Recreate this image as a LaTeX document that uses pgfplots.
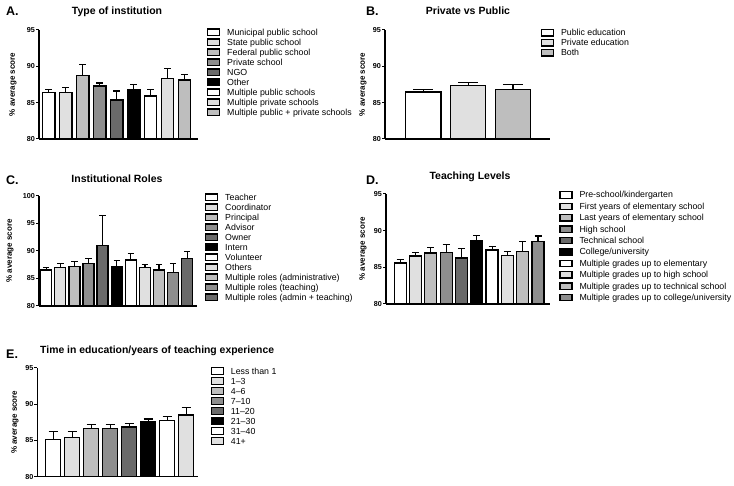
\documentclass[border=0pt]{standalone}
\usepackage{fontspec}
\setmainfont{Liberation Sans}
\usepackage{pgfplots}
\pgfplotsset{compat=1.18}
\definecolor{g1}{HTML}{FFFFFF}
\definecolor{g2}{HTML}{E0E0E0}
\definecolor{g3}{HTML}{BEBEBE}
\definecolor{g4}{HTML}{8E8E8E}
\definecolor{g5}{HTML}{6A6A6A}
\definecolor{g6}{HTML}{000000}
\pgfplotsset{
  panel/.style={
    scale only axis,
    ybar, bar shift=0pt,
    axis lines*=left,
    axis line style={line width=1.3pt, -},
    xtick=\empty,
    ytick pos=left,
    tick align=outside,
    major tick length=3pt,
    tick style={line width=1pt, black},
    yticklabel style={font=\bfseries\fontsize{7.2}{8}\selectfont, inner sep=1pt},
    /pgf/number format/assume math mode=true,
    clip=false,
    legend cell align=left,
    legend style={draw=none, fill=none, inner sep=0pt, outer sep=0pt,
      font=\fontsize{8.8}{10}\selectfont, anchor=north west,
      row sep=0pt, column sep=0pt,
      nodes={inner sep=0pt, text height=7.5pt, text depth=1.5pt, inner ysep=0.5pt}},
    legend image code/.code={\draw[##1, line width=1.2pt] (0pt,-3.2pt) rectangle (12pt,3.2pt); \path (19pt,0pt);},
    ylabel={\% average score},
    every axis y label/.style={rotate=90, anchor=center, font=\bfseries\fontsize{8}{9}\selectfont},
    every axis plot/.append style={draw=black, line width=1.3pt,
      error bars/y dir=plus, error bars/y explicit,
      error bars/error bar style={line width=1.2pt, black, solid}},
  },
}
\begin{document}
\begin{tikzpicture}
\path[use as bounding box] (0,0) rectangle (734pt,-486pt);
% titles
\node[anchor=base west, font=\bfseries\fontsize{12.5}{14}\selectfont, inner sep=0pt] at (6pt,-16pt) {A.};
\node[anchor=base, font=\bfseries\fontsize{10.5}{12}\selectfont, inner sep=0pt] at (117pt,-15pt) {Type of institution};
\node[anchor=base west, font=\bfseries\fontsize{12.5}{14}\selectfont, inner sep=0pt] at (366pt,-16pt) {B.};
\node[anchor=base, font=\bfseries\fontsize{10.5}{12}\selectfont, inner sep=0pt] at (468pt,-15pt) {Private vs Public};
\node[anchor=base west, font=\bfseries\fontsize{12.5}{14}\selectfont, inner sep=0pt] at (6pt,-185pt) {C.};
\node[anchor=base, font=\bfseries\fontsize{10.5}{12}\selectfont, inner sep=0pt] at (117pt,-182.7pt) {Institutional Roles};
\node[anchor=base west, font=\bfseries\fontsize{12.5}{14}\selectfont, inner sep=0pt] at (366pt,-185pt) {D.};
\node[anchor=base, font=\bfseries\fontsize{10.5}{12}\selectfont, inner sep=0pt] at (470pt,-179.3pt) {Teaching Levels};
\node[anchor=base west, font=\bfseries\fontsize{12.5}{14}\selectfont, inner sep=0pt] at (6pt,-358.3pt) {E.};
\node[anchor=base west, font=\bfseries\fontsize{10.4}{12}\selectfont, inner sep=0pt] at (40pt,-354pt) {Time in education/years of teaching experience};

% ---------------- A ----------------
\begin{axis}[panel, at={(39pt,-139pt)}, anchor=south west,
  width=159pt, height=109pt, xmin=0.422, xmax=9.796, ymin=80, ymax=95,
  ytick={80,85,90,95}, bar width=12.5pt,
  every axis y label/.append style={at={(axis description cs:-0.1635,0.5)}},
  error bars/error mark options={rotate=90, mark size=3.5pt, line width=1.2pt, black},
  legend style={at={(1.0566,1.0257)}}]
\addplot[fill=g1] coordinates {(1,86.38) +- (0,0.45)};
\addplot[fill=g2] coordinates {(2,86.40) +- (0,0.70)};
\addplot[fill=g3] coordinates {(3,88.70) +- (0,1.55)};
\addplot[fill=g4] coordinates {(4,87.30) +- (0,0.40)};
\addplot[fill=g5] coordinates {(5,85.35) +- (0,1.25)};
\addplot[fill=g6] coordinates {(6,86.80) +- (0,0.75)};
\addplot[fill=g1] coordinates {(7,85.90) +- (0,0.95)};
\addplot[fill=g2] coordinates {(8,88.35) +- (0,1.30)};
\addplot[fill=g3] coordinates {(9,88.10) +- (0,0.80)};
\legend{Municipal public school, State public school, Federal public school, Private school, NGO, Other, Multiple public schools, Multiple private schools, Multiple public + private schools}
\end{axis}

% ---------------- B ----------------
\begin{axis}[panel, at={(385pt,-139pt)}, anchor=south west,
  width=165pt, height=109pt, xmin=0.143, xmax=3.826, ymin=80, ymax=95,
  ytick={80,85,90,95}, bar width=35.3pt,
  every axis y label/.append style={at={(axis description cs:-0.1333,0.5)}},
  error bars/error mark options={rotate=90, mark size=10pt, line width=1.2pt, black},
  legend style={at={(0.944,1.021)}}]
\addplot[fill=g1] coordinates {(1,86.45) +- (0,0.35)};
\addplot[fill=g2] coordinates {(2,87.35) +- (0,0.40)};
\addplot[fill=g3] coordinates {(3,86.85) +- (0,0.60)};
\legend{Public education, Private education, Both}
\end{axis}

% ---------------- C ----------------
\begin{axis}[panel, at={(39pt,-306pt)}, anchor=south west,
  width=158pt, height=110.3pt, xmin=0.489, xmax=11.695, ymin=80, ymax=100,
  ytick={80,85,90,95,100}, bar width=11pt,
  every axis y label/.append style={at={(axis description cs:-0.1835,0.5)}},
  error bars/error mark options={rotate=90, mark size=3.2pt, line width=1.2pt, black},
  legend style={at={(1.0506,1.031)}}]
\addplot[fill=g1] coordinates {(1,86.55) +- (0,0.40)};
\addplot[fill=g2] coordinates {(2,87.00) +- (0,0.65)};
\addplot[fill=g3] coordinates {(3,87.17) +- (0,0.85)};
\addplot[fill=g4] coordinates {(4,87.65) +- (0,0.90)};
\addplot[fill=g5] coordinates {(5,90.95) +- (0,5.40)};
\addplot[fill=g6] coordinates {(6,87.17) +- (0,1.05)};
\addplot[fill=g1] coordinates {(7,88.35) +- (0,1.20)};
\addplot[fill=g2] coordinates {(8,87.00) +- (0,0.55)};
\addplot[fill=g3] coordinates {(9,86.55) +- (0,1.00)};
\addplot[fill=g4] coordinates {(10,86.05) +- (0,1.60)};
\addplot[fill=g5] coordinates {(11,88.60) +- (0,1.30)};
\legend{Teacher, Coordinator, Principal, Advisor, Owner, Intern, Volunteer, Others, Multiple roles (administrative), Multiple roles (teaching), Multiple roles (admin + teaching)}
\end{axis}

% ---------------- D ----------------
\begin{axis}[panel, at={(386pt,-304pt)}, anchor=south west,
  width=164pt, height=110.2pt, xmin=0.0725, xmax=10.78, ymin=80, ymax=95,
  ytick={80,85,90,95}, bar width=12pt,
  every axis y label/.append style={at={(axis description cs:-0.140,0.5)}},
  error bars/error mark options={rotate=90, mark size=3.5pt, line width=1.2pt, black},
  legend style={at={(1.0567,1.041)}, nodes={text height=8.2pt, text depth=2.2pt}}]
\addplot[fill=g1] coordinates {(1,85.58) +- (0,0.47)};
\addplot[fill=g2] coordinates {(2,86.52) +- (0,0.45)};
\addplot[fill=g3] coordinates {(3,86.96) +- (0,0.70)};
\addplot[fill=g4] coordinates {(4,87.05) +- (0,1.07)};
\addplot[fill=g5] coordinates {(5,86.25) +- (0,1.25)};
\addplot[fill=g6] coordinates {(6,88.61) +- (0,0.67)};
\addplot[fill=g1] coordinates {(7,87.37) +- (0,0.48)};
\addplot[fill=g2] coordinates {(8,86.61) +- (0,0.57)};
\addplot[fill=g3] coordinates {(9,87.13) +- (0,1.37)};
\addplot[fill=g4] coordinates {(10,88.50) +- (0,0.75)};
\legend{Pre-school/kindergarten, First years of elementary school, Last years of elementary school, High school, Technical school, College/university, Multiple grades up to elementary, Multiple grades up to high school, Multiple grades up to technical school, Multiple grades up to college/university}
\end{axis}

% ---------------- E ----------------
\begin{axis}[panel, at={(37.5pt,-476.7pt)}, anchor=south west,
  width=160.8pt, height=109pt, xmin=0.174, xmax=8.637, ymin=80, ymax=95,
  ytick={80,85,90,95}, bar width=15pt,
  every axis y label/.append style={at={(axis description cs:-0.14,0.5)}},
  error bars/error mark options={rotate=90, mark size=4.5pt, line width=1.2pt, black},
  legend style={at={(1.077,1.0156)}}]
\addplot[fill=g1] coordinates {(1,85.15) +- (0,1.04)};
\addplot[fill=g2] coordinates {(2,85.43) +- (0,0.77)};
\addplot[fill=g3] coordinates {(3,86.61) +- (0,0.60)};
\addplot[fill=g4] coordinates {(4,86.61) +- (0,0.55)};
\addplot[fill=g5] coordinates {(5,86.83) +- (0,0.46)};
\addplot[fill=g6] coordinates {(6,87.55) +- (0,0.39)};
\addplot[fill=g1] coordinates {(7,87.73) +- (0,0.60)};
\addplot[fill=g2] coordinates {(8,88.49) +- (0,1.05)};
\legend{Less than 1, 1--3, 4--6, 7--10, 11--20, 21--30, 31--40, 41+}
\end{axis}
\end{tikzpicture}
\end{document}
